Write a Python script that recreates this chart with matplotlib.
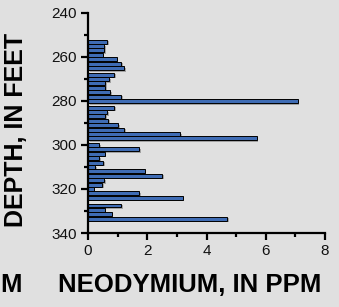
import matplotlib
matplotlib.use("Agg")
import matplotlib.pyplot as plt
import matplotlib.patheffects as pe
from matplotlib.ticker import MultipleLocator

depth_ft = [253, 255, 257, 259, 261, 263, 265, 268, 270, 272, 274, 276, 278, 280,
            283, 285, 287, 289, 291, 293, 295, 297, 300, 302, 304, 306, 308, 310,
            312, 314, 316, 318, 320, 322, 324, 327.5, 329.5, 331.5, 333.5]
neodymium_ppm = [0.64, 0.54, 0.54, 0.50, 0.97, 1.11, 1.21, 0.89, 0.72, 0.57, 0.57, 0.75,
                 1.11, 7.08, 0.89, 0.64, 0.57, 0.67, 1.01, 1.21, 3.10, 5.69, 0.37, 1.72,
                 0.56, 0.37, 0.52, 0.24, 1.91, 2.50, 0.54, 0.47, 0.19, 1.72, 3.20, 1.11,
                 0.56, 0.80, 4.70]

bg = "#e0e0e0"
font = "Liberation Sans"

fig = plt.figure(figsize=(3.39, 3.07), dpi=100, facecolor=bg)
ax = fig.add_axes([88 / 339, 74 / 307, 237 / 339, 220 / 307], facecolor=bg)

bars = ax.barh(depth_ft, neodymium_ppm, height=1.8, color="#3f6cb4",
               edgecolor="black", linewidth=0.7)
for b in bars:
    b.set_path_effects([pe.SimplePatchShadow(offset=(1.2, -1.2), shadow_rgbFace="#888888", alpha=0.7),
                        pe.Normal()])

ax.set_xlim(0, 8)
ax.set_ylim(340, 240)
ax.xaxis.set_major_locator(MultipleLocator(2))
ax.xaxis.set_minor_locator(MultipleLocator(1))
ax.yaxis.set_major_locator(MultipleLocator(20))
ax.yaxis.set_minor_locator(MultipleLocator(10))

for s in ["top", "right"]:
    ax.spines[s].set_visible(False)
for s in ["left", "bottom"]:
    ax.spines[s].set_linewidth(1.6)

ax.tick_params(which="major", direction="out", length=5, width=1.6, pad=3,
               labelsize=11, labelcolor="#111111")
ax.tick_params(which="minor", direction="out", length=2.8, width=1.6)
for lab in ax.get_xticklabels() + ax.get_yticklabels():
    lab.set_family(font)

fig.text(16 / 339, 1 - 130 / 307, "DEPTH, IN FEET", rotation=90, ha="center", va="center",
         fontsize=18, fontweight="bold", family=font)
fig.text(190 / 339, 1 - 285 / 307, "NEODYMIUM, IN PPM", ha="center", va="center",
         fontsize=18.5, fontweight="bold", family=font)
# last letter of the neighbouring panel's label, left by the crop
fig.text(22 / 339, 1 - 285 / 307, "M", ha="right", va="center",
         fontsize=18.5, fontweight="bold", family=font)

fig.savefig("out.png", dpi=100, facecolor=bg)
